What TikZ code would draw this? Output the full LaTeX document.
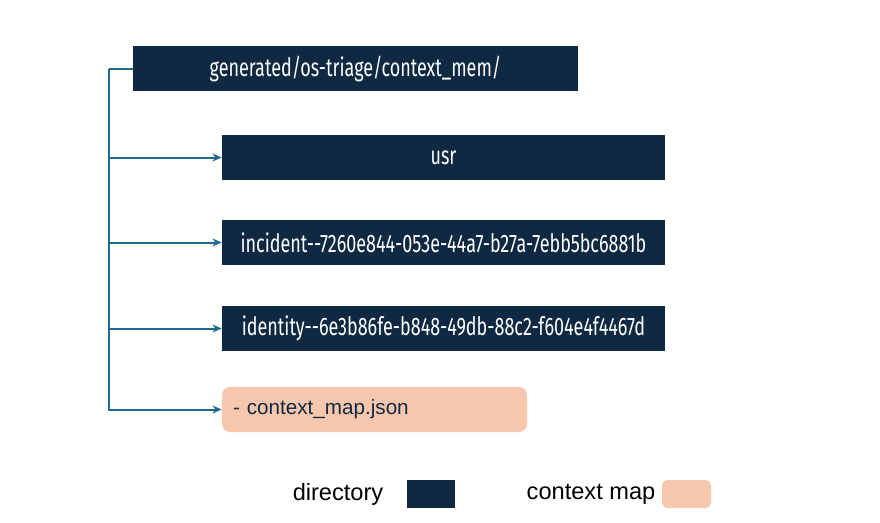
\documentclass[tikz,border=0pt]{standalone}
\usepackage{fontspec}
\setmainfont{Liberation Sans}
\newfontfamily\dirfont[FakeStretch=0.71]{Fira Sans}
\usetikzlibrary{arrows.meta, positioning}
\definecolor{navy}{HTML}{0F2942}
\definecolor{peach}{HTML}{F6C7AD}
\definecolor{linkblue}{HTML}{1F6A8E}

\begin{document}
\begin{tikzpicture}[
  x=0.75pt, y=-0.75pt,
  folder/.style={fill=navy, text=white, inner sep=0pt, minimum width=332.25pt, minimum height=33.75pt, font=\dirfont\fontsize{19}{21}\selectfont},
  mapfile/.style={fill=peach, text=navy, rounded corners=6pt, inner sep=0pt, inner xsep=8.25pt, text width=212.25pt, align=left, minimum height=33.75pt, font=\fontsize{15.5}{18}\selectfont},
  branch/.style={-{Stealth[length=7pt, width=6pt]}, line width=1.5pt, linkblue},
  trunk/.style={line width=1.5pt, linkblue},
  legend/.style={font=\fontsize{17.7}{20}\selectfont, text=black}
]
\useasboundingbox (0,0) rectangle (880,522);

% Nodes
\node[folder, minimum width=333.75pt] (root) at (355.5,68.5) {generated/os-triage/context\_mem/};
\node[folder] (usr) at (443.5,157.5) {usr};
\node[folder] (incident) at (443.5,242.5) {incident--7260e844-053e-44a7-b27a-7ebb5bc6881b};
\node[folder] (identity) at (443.5,328.5) {identity--6e3b86fe-b848-49db-88c2-f604e4f4467d};
\node[mapfile] (ctxmap) at (374.5,409.5) {- context\_map.json};

% Tree
\coordinate (top) at (109,68.5);
\draw[trunk] (root.west) -- (top);
\draw[branch] (top) |- (usr.west);
\draw[branch] (top) |- (incident.west);
\draw[branch] (top) |- (identity.west);
\draw[branch] (top) |- (ctxmap.west);

% Legend
\node[legend] (dirlabel) at (338,494) {directory};
\node[fill=navy, minimum width=36pt, minimum height=21pt, inner sep=0pt] (dirkey) at (431,494) {};
\node[legend] (maplabel) at (591,494) {context map};
\node[fill=peach, rounded corners=4pt, minimum width=36.75pt, minimum height=21pt, inner sep=0pt] (mapkey) at (686.5,494) {};

\end{tikzpicture}
\end{document}
